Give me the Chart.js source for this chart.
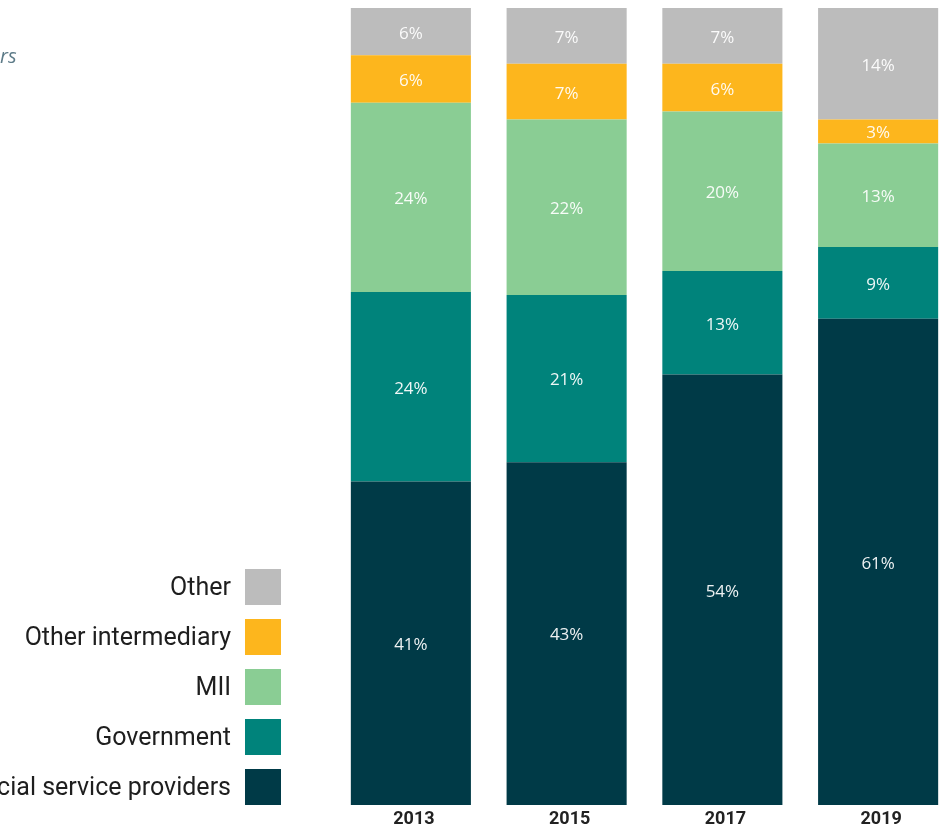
<!DOCTYPE html>
<html>
<head>
<meta charset="utf-8">
<script src="https://cdn.jsdelivr.net/npm/chart.js@4/dist/chart.umd.min.js"></script>
<style>
  html, body { margin: 0; padding: 0; background: #fff; overflow: hidden; }
  #wrap { position: absolute; left: 0; top: 0; width: 980px; height: 827px; }
</style>
</head>
<body>
<div id="wrap"><canvas id="myChart"></canvas></div>
<script>
const years = ["2013", "2015", "2017", "2019"];

// shares in percent, one array per segment (bottom to top)
const financialProviders = [41, 43, 54, 61];
const government = [24, 21, 13, 9];
const mii = [24, 22, 20, 13];
const otherIntermediary = [6, 7, 6, 3];
const other = [6, 7, 7, 14];

const seriesNames = ["Financial service providers", "Government", "MII", "Other intermediary", "Other"];
const seriesColors = ["#003a47", "#00837b", "#8acd94", "#fdb61d", "#bcbcbc"];
const seriesValues = [financialProviders, government, mii, otherIntermediary, other];

// each column is drawn as a 100% stack
const totals = years.map((_, j) => seriesValues.reduce((s, arr) => s + arr[j], 0));

const datasets = seriesValues.map((vals, i) => ({
  label: seriesNames[i],
  raw: vals,
  data: vals.map((v, j) => v / totals[j] * 100),
  backgroundColor: seriesColors[i],
  borderWidth: 0,
  categoryPercentage: 1,
  barPercentage: 0.771
}));

// value labels in the middle of each segment
const segmentLabels = {
  id: "segmentLabels",
  afterDatasetsDraw(chart) {
    const ctx = chart.ctx;
    ctx.save();
    ctx.font = '17px "Open Sans"';
    ctx.fillStyle = "rgba(255,255,255,0.93)";
    ctx.textAlign = "center";
    ctx.textBaseline = "middle";
    chart.data.datasets.forEach((ds, i) => {
      chart.getDatasetMeta(i).data.forEach((bar, j) => {
        ctx.fillText(ds.raw[j] + "%", bar.x, (bar.y + bar.base) / 2 + 2);
      });
    });
    ctx.restore();
  }
};

// legend on the left, label right-aligned next to its swatch
const sideLegend = {
  id: "sideLegend",
  afterDraw(chart) {
    const ctx = chart.ctx;
    const items = chart.data.datasets.slice().reverse();
    ctx.save();
    ctx.font = '25px Roboto';
    ctx.textAlign = "right";
    ctx.textBaseline = "middle";
    items.forEach((ds, k) => {
      const top = 569 + k * 50;
      ctx.fillStyle = ds.backgroundColor;
      ctx.fillRect(245, top, 36, 36);
      ctx.fillStyle = "#1e1e1e";
      ctx.fillText(ds.label, 231, top + 20);
    });

    ctx.font = 'italic 20px "Open Sans"';
    ctx.fillStyle = "#5d7b88";
    ctx.textAlign = "left";
    ctx.textBaseline = "alphabetic";
    ctx.fillText("rs", 0, 63);
    ctx.restore();
  }
};

new Chart(document.getElementById("myChart").getContext("2d"), {
  type: "bar",
  data: { labels: years, datasets: datasets },
  options: {
    responsive: true,
    maintainAspectRatio: false,
    animation: false,
    layout: { padding: { left: 333, right: 24, top: 8, bottom: 0 } },
    plugins: { legend: { display: false }, tooltip: { enabled: false } },
    scales: {
      x: {
        stacked: true,
        grid: { display: false, drawTicks: false },
        border: { display: false },
        afterFit(scale) { scale.height = 22; },
        ticks: { color: "#222", padding: 4, labelOffset: 3, font: { family: "Roboto", weight: "bold", size: 18 } }
      },
      y: { stacked: true, min: 0, max: 100, display: false }
    }
  },
  plugins: [segmentLabels, sideLegend]
});
</script>
</body>
</html>
